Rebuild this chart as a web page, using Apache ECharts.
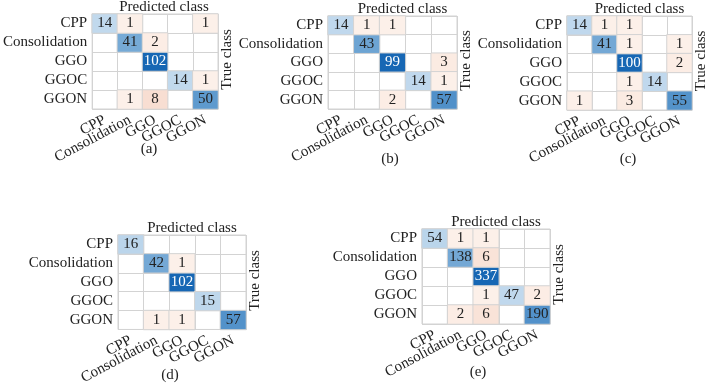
<!DOCTYPE html>
<html>
<head>
<meta charset="utf-8">
<script src="https://cdn.jsdelivr.net/npm/echarts@6/dist/echarts.min.js"></script>
<style>
html, body { margin: 0; padding: 0; background: #fff; }
#main { width: 709px; height: 387px; }
</style>
</head>
<body>
<div id="main"></div>
<script>
// class names (rows = true class, columns = predicted class)
var classes = ['CPP', 'Consolidation', 'GGO', 'GGOC', 'GGON'];
// confusion matrices, 0 = empty cell
var matA = [[14, 1, 0, 0, 1], [0, 41, 2, 0, 0], [0, 0, 102, 0, 0], [0, 0, 0, 14, 1], [0, 1, 8, 0, 50]];
var matB = [[14, 1, 1, 0, 0], [0, 43, 0, 0, 0], [0, 0, 99, 0, 3], [0, 0, 0, 14, 1], [0, 0, 2, 0, 57]];
var matC = [[14, 1, 1, 0, 0], [0, 41, 1, 0, 1], [0, 0, 100, 0, 2], [0, 0, 1, 14, 0], [1, 0, 3, 0, 55]];
var matD = [[16, 0, 0, 0, 0], [0, 42, 1, 0, 0], [0, 0, 102, 0, 0], [0, 0, 0, 15, 0], [0, 1, 1, 0, 57]];
var matE = [[54, 1, 1, 0, 0], [0, 138, 6, 0, 0], [0, 0, 337, 0, 0], [0, 0, 1, 47, 2], [0, 2, 6, 0, 190]];
var panelLabels = ['(a)', '(b)', '(c)', '(d)', '(e)'];

var chart = echarts.init(document.getElementById('main'));
var font = "'Liberation Serif', 'Times New Roman', serif";
var lineColor = '#d3d3d3';
var textColor = '#222222';

var mats = [matA, matB, matC, matD, matE];
// layout of each panel (pixels)
var boxes = [
    {left: 90, top: 14, width: 128, height: 95, lab: [149, 149]},
    {left: 328, top: 16, width: 129, height: 93, lab: [390, 159]},
    {left: 567, top: 16, width: 125, height: 94, lab: [628, 159]},
    {left: 118, top: 235, width: 128, height: 95, lab: [170, 375]},
    {left: 422, top: 229, width: 128, height: 95, lab: [478, 372]}
];

var grids = [], xAxes = [], yAxes = [], series = [], visualMaps = [], graphics = [];

for (var i = 0; i < mats.length; i++) {
    var m = mats[i];
    var b = boxes[i];
    var dmax = 0;
    for (var k = 0; k < m.length; k++) dmax = Math.max(dmax, m[k][k]);

    grids.push({
        left: b.left, top: b.top, width: b.width, height: b.height,
        show: true, borderColor: lineColor, borderWidth: 1
    });
    xAxes.push({
        type: 'category', gridIndex: i, data: classes, position: 'bottom',
        axisLine: {show: false}, axisTick: {show: false},
        splitLine: {show: true, interval: 0, lineStyle: {color: lineColor}},
        axisLabel: {rotate: 28, margin: 10, interval: 0, fontFamily: font, fontSize: 15, color: textColor}
    });
    yAxes.push({
        type: 'category', gridIndex: i, data: classes, inverse: true,
        axisLine: {show: false}, axisTick: {show: false},
        splitLine: {show: true, interval: 0, lineStyle: {color: lineColor}},
        axisLabel: {margin: 5, interval: 0, fontFamily: font, fontSize: 15, color: textColor}
    });

    var diag = [], off = [];
    for (var r = 0; r < m.length; r++) {
        for (var c = 0; c < m[r].length; c++) {
            var v = m[r][c];
            if (!v) continue;
            var item = {value: [c, r, v]};
            if (r == c) {
                item.label = {color: v >= 0.75 * dmax ? '#ffffff' : textColor};
                diag.push(item);
            } else {
                off.push(item);
            }
        }
    }
    var cell = {
        type: 'heatmap', xAxisIndex: i, yAxisIndex: i,
        itemStyle: {borderColor: lineColor, borderWidth: 1},
        label: {
            show: true, fontFamily: font, fontSize: 15, color: textColor,
            formatter: function (p) { return p.value[2]; }
        },
        emphasis: {disabled: true}
    };
    series.push(Object.assign({}, cell, {data: diag}));
    series.push(Object.assign({}, cell, {data: off}));

    visualMaps.push({
        show: false, seriesIndex: 2 * i, dimension: 2, min: 0, max: dmax,
        inRange: {color: ['#e8f1f9', '#a1c5e3', '#5b98cd', '#377ec0', '#1767b4']}
    });
    visualMaps.push({
        show: false, seriesIndex: 2 * i + 1, dimension: 2, min: 0, max: 20,
        inRange: {color: ['#fdf2ec', '#f0c0aa']}
    });

    // titles around each matrix
    graphics.push({
        type: 'text', x: b.left + b.width / 2 + 10, y: b.top - 7,
        style: {text: 'Predicted class', font: '15px ' + font, fill: textColor, align: 'center', verticalAlign: 'middle'}
    });
    graphics.push({
        type: 'text', x: b.left + b.width + 9, y: b.top + b.height / 2 - 2, rotation: Math.PI / 2,
        style: {text: 'True class', font: '15px ' + font, fill: textColor, align: 'center', verticalAlign: 'middle'}
    });
    graphics.push({
        type: 'text', x: b.lab[0], y: b.lab[1],
        style: {text: panelLabels[i], font: '15px ' + font, fill: textColor, align: 'center', verticalAlign: 'middle'}
    });
}

var option = {
    backgroundColor: '#ffffff',
    animation: false,
    grid: grids,
    xAxis: xAxes,
    yAxis: yAxes,
    visualMap: visualMaps,
    series: series,
    graphic: graphics
};
chart.setOption(option);
</script>
</body>
</html>
